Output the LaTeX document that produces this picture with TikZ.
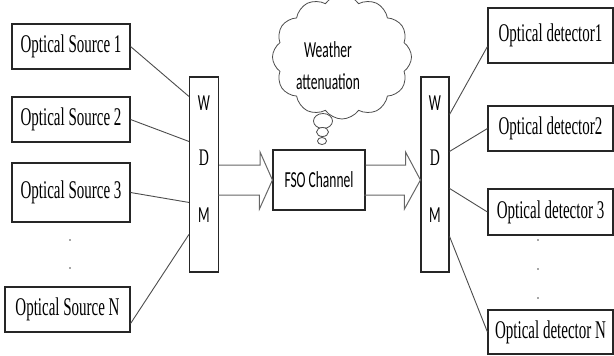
\documentclass[tikz,border=0pt]{standalone}
\usepackage{fontspec}
\setmainfont{Liberation Serif}
\newfontfamily\calibri{Carlito}
\usepackage{graphicx}
\usetikzlibrary{shapes.symbols}

\newcommand{\tall}[1]{\scalebox{1}[1.7]{#1}}

\tikzstyle{srcbox} = [draw=black!85, line width=1.1pt, rectangle,
    minimum width=118pt, minimum height=45pt, inner sep=0pt,
    font=\fontsize{15}{18}\selectfont]
\tikzstyle{detbox} = [srcbox, minimum width=125pt]
\tikzstyle{wdm} = [draw=black!85, line width=1.1pt, rectangle,
    minimum width=29pt, minimum height=195pt]
\tikzstyle{letter} = [inner sep=0pt, font=\calibri\fontsize{13.5}{16}\selectfont]
\tikzstyle{link} = [draw=black!70, line width=0.9pt]
\tikzstyle{bigarrow} = [draw=black!60, line width=1pt, line join=miter]
\tikzstyle{bubble} = [draw=black!70, line width=0.8pt, fill=white]
\tikzstyle{dot} = [fill=black!70]

\begin{document}
\begin{tikzpicture}[x=1pt, y=-1pt]
    \useasboundingbox (0,0) rectangle (614,356);
    % sources
    \node [srcbox] (src1) at (71,46.5) {\tall{Optical Source 1}};
    \node [srcbox] (src2) at (71,119.5) {\tall{Optical Source 2}};
    \node [srcbox, minimum height=59pt] (src3) at (71,192.5) {\tall{Optical Source 3}};
    \node [srcbox, minimum width=125pt] (srcN) at (67.5,309.5) {\tall{Optical Source N}};
    \fill [dot] (70,240) circle (0.9pt);
    \fill [dot] (70,268) circle (0.9pt);
    % multiplexer
    \node [wdm] (mux) at (204,174.5) {};
    \node [letter] (muxW) at (204,103) {\tall{W}};
    \node [letter, font=\fontsize{14}{16}\selectfont] (muxD) at (204,158) {\tall{D}};
    \node [letter] (muxM) at (204,215) {\tall{M}};
    % channel
    \node [draw=black!85, line width=1.1pt, minimum width=92pt, minimum height=60pt,
        font=\calibri\fontsize{13.5}{16}\selectfont] (fso) at (319,180) {\tall{FSO Channel}};
    \node [cloud, draw=black!70, line width=0.8pt, cloud puffs=12,
        cloud puff arc=110, minimum width=139pt, minimum height=124pt,
        inner sep=0pt] (weather) at (342,57) {};
    \node [align=center, inner sep=0pt,
        font=\calibri\fontsize{13.5}{32}\selectfont] (weatherTxt) at (328,66)
        {\tall{Weather}\\\tall{attenuation}};
    \draw [bubble] (323,121) ellipse (9.5pt and 7.5pt);
    \draw [bubble] (322.5,132) ellipse (6pt and 4.5pt);
    \draw [bubble] (322,141) ellipse (4.5pt and 3.5pt);
    % demultiplexer
    \node [wdm, minimum width=28pt] (demux) at (435,174.5) {};
    \node [letter] (demuxW) at (435,103) {\tall{W}};
    \node [letter, font=\fontsize{14}{16}\selectfont] (demuxD) at (435,158) {\tall{D}};
    \node [letter] (demuxM) at (435,215) {\tall{M}};
    % detectors
    \node [detbox, minimum height=55pt] (det1) at (550.5,35.5) {\tall{Optical detector1}};
    \node [detbox] (det2) at (550.5,128.5) {\tall{Optical detector2}};
    \node [detbox, minimum height=46pt] (det3) at (550.5,212) {\tall{Optical detector 3}};
    \node [detbox, minimum height=44pt] (detN) at (550.5,332) {\tall{Optical detector N}};
    \fill [dot] (538,240) circle (0.9pt);
    \fill [dot] (538,269) circle (0.9pt);
    \fill [dot] (538,298) circle (0.9pt);

    \draw [link] (src1.east) -- ([yshift=-20pt]mux.north west);
    \draw [link] (src2.east) -- ([yshift=-65pt]mux.north west);
    \draw [link] (src3.east) -- ([yshift=-126pt]mux.north west);
    \draw [link] ([yshift=9pt]srcN.south east) -- ([yshift=-158pt]mux.north west);

    \coordinate (a1) at (mux.east |- fso.west);
    \draw [bigarrow] (a1) ++(0,-15) -- ++(41,0) -- ++(0,-13) -- (fso.west)
        -- ++(-13,29) -- ++(0,-14) -- ++(-41,0);
    \draw [bigarrow] (fso.east) ++(0,-15) -- ++(40,0) -- ++(0,-13) -- (demux.west |- fso.east)
        -- ++(-16,29) -- ++(0,-14) -- ++(-40,0);

    \draw [link] ([yshift=-38pt]demux.north east) -- ([yshift=-11pt]det1.west);
    \draw [link] ([yshift=-75pt]demux.north east) -- (det2.west);
    \draw [link] ([yshift=-112pt]demux.north east) -- (det3.west);
    \draw [link] ([yshift=-160pt]demux.north east) -- (detN.west);
\end{tikzpicture}
\end{document}
